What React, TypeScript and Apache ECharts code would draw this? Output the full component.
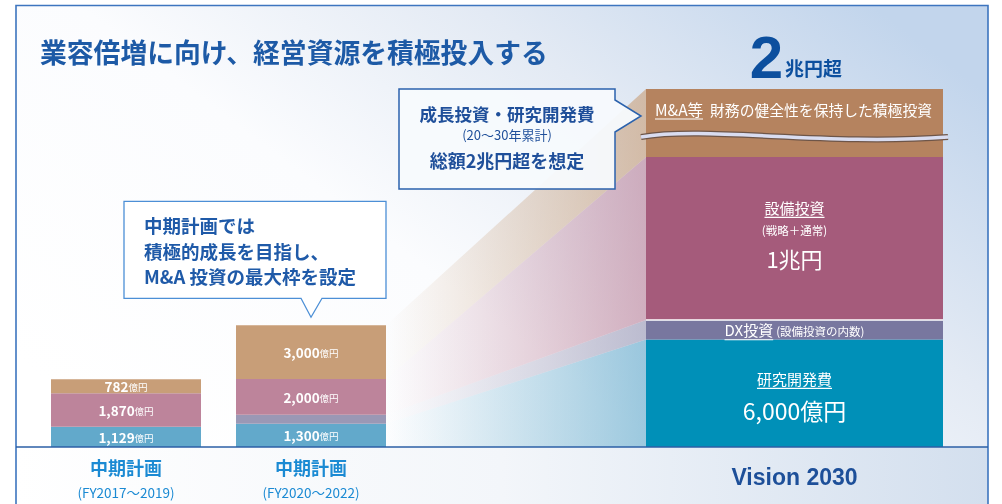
import React, { useEffect, useRef } from "react";
import * as echarts from "echarts";

// ---- data ----
const periodNames = ["中期計画", "中期計画"];
const periodSpans = ["(FY2017〜2019)", "(FY2020〜2022)"];
const visionCategory = ["Vision 2030"];

// 中期計画 (億円): R&D, DX (part of capex), capex, M&A
const rdMid = [1129, 1300];
const dxMid = [0, 500];
const capexMid = [1870, 2000];
const maMid = [782, 3000];

// Vision 2030 (億円, M&A segment drawn with a break)
const rdVision = [6000];
const dxVision = [1100];
const capexVision = [9100];
const maVision = [3800];

const yMax = 20000;

const FONT = "'Noto Sans CJK JP', 'Noto Sans', sans-serif";
const midColors = ["#62a9cb", "#9a98b5", "#bd849b", "#c89e78"];
const visColors = ["#0090b8", "#78779f", "#a55b7b", "#b5835f"];
const fanColors = [
  [98, 169, 203],
  [154, 152, 181],
  [189, 132, 155],
  [200, 158, 120],
];
const MID_BAR_W = 150;
const VIS_BAR_W = 297;

export default function App() {
  const ref = useRef<HTMLDivElement>(null);
  useEffect(() => {
    const el = ref.current!;
    const chart = echarts.init(el, null, { renderer: "svg", width: 1002, height: 504 });

    const midSeries = [rdMid, dxMid, capexMid, maMid].map((d, k) => ({
      type: "bar",
      xAxisIndex: 0,
      yAxisIndex: 0,
      stack: "mid",
      barWidth: MID_BAR_W,
      data: d,
      itemStyle: { color: midColors[k] },
      z: 3,
      label: {
        show: k !== 1,
        position: "inside",
        formatter: (p: any) =>
          p.value ? `{n|${Number(p.value).toLocaleString("en-US")}}{u|億円}` : "",
        rich: {
          n: { fontSize: 13.5, fontWeight: "bold", color: "#fff", fontFamily: FONT },
          u: { fontSize: 9.5, color: "#fff", fontFamily: FONT, padding: [2, 0, 0, 0] },
        },
      },
    }));
    const visSeries = [rdVision, dxVision, capexVision, maVision].map((d, k) => ({
      type: "bar",
      xAxisIndex: 1,
      yAxisIndex: 1,
      stack: "vis",
      barWidth: VIS_BAR_W,
      data: d,
      itemStyle: { color: visColors[k] },
      z: 3,
    }));

    const hiddenAxisParts = { axisLine: { show: false }, axisTick: { show: false } };

    chart.setOption({
      animation: false,
      textStyle: { fontFamily: FONT },
      grid: [
        { left: 33.5, width: 370, top: 89, height: 358 },
        { left: 646, width: 297, top: 89, height: 358 },
      ],
      xAxis: [
        {
          type: "category",
          gridIndex: 0,
          data: periodNames,
          ...hiddenAxisParts,
          axisLabel: {
            margin: 10,
            interval: 0,
            fontSize: 18,
            lineHeight: 20,
            fontWeight: "bold",
            color: "#1b8ad3",
            fontFamily: FONT,
          },
        },
        {
          type: "category",
          gridIndex: 1,
          data: visionCategory,
          ...hiddenAxisParts,
          axisLabel: {
            margin: 18,
            fontSize: 23,
            fontWeight: "bold",
            color: "#1d4f99",
            fontFamily: "'Liberation Sans', Arial, sans-serif",
          },
        },
        {
          type: "category",
          gridIndex: 0,
          position: "bottom",
          offset: 37,
          data: periodSpans,
          ...hiddenAxisParts,
          axisLabel: {
            margin: 0,
            interval: 0,
            fontSize: 13.5,
            lineHeight: 15,
            color: "#1b8ad3",
            fontFamily: FONT,
          },
        },
      ],
      yAxis: [
        { type: "value", gridIndex: 0, min: 0, max: yMax, show: false },
        { type: "value", gridIndex: 1, min: 0, max: yMax, show: false },
      ],
      series: [...midSeries, ...visSeries],
    });

    const toPx = (g: number, cat: number, v: number) =>
      chart.convertToPixel({ gridIndex: g } as any, [cat, v]) as number[];
    const cum = (arrs: number[][], i: number) => {
      const out = [0];
      arrs.forEach((a) => out.push(out[out.length - 1] + (a[i] || 0)));
      return out;
    };
    const midCum = cum([rdMid, dxMid, capexMid, maMid], 1);
    const visCum = cum([rdVision, dxVision, capexVision, maVision], 0);
    const midY = midCum.map((v) => toPx(0, 1, v)[1]);
    const visY = visCum.map((v) => toPx(1, 0, v)[1]);
    const x2C = toPx(0, 1, 0)[0];
    const x2R = x2C + MID_BAR_W / 2;
    const x3C = toPx(1, 0, 0)[0];
    const x3L = x3C - VIS_BAR_W / 2;
    const x3R = x3C + VIS_BAR_W / 2;
    const baseY = midY[0];

    const canvas = document.createElement("canvas");
    const ctx = canvas.getContext("2d")!;
    const measure = (t: string, size: number, weight = "normal") => {
      ctx.font = `${weight} ${size}px ${FONT}`;
      return ctx.measureText(t).width;
    };

    const els: any[] = [];
    // background
    els.push({
      type: "rect",
      z: -20,
      shape: { x: 16, y: 5, width: 972, height: baseY - 5 },
      style: {
        fill: new echarts.graphic.LinearGradient(0, 0.8, 1, 0.2, [
          { offset: 0, color: "#ffffff" },
          { offset: 0.4, color: "#fbfcfe" },
          { offset: 0.7, color: "#e3eaf4" },
          { offset: 1, color: "#c2d5ec" },
        ]),
      },
    });
    els.push({
      type: "rect",
      z: -20,
      shape: { x: 16, y: baseY, width: 972, height: 504 - baseY },
      style: {
        fill: new echarts.graphic.LinearGradient(0, 0, 1, 0, [
          { offset: 0, color: "#ffffff" },
          { offset: 0.5, color: "#f3f6fa" },
          { offset: 1, color: "#d3dfee" },
        ]),
      },
    });
    // frame
    els.push({
      type: "polyline",
      z: 30,
      shape: { points: [[16, 510], [16, 5.5], [988, 5.5], [988, 510]] },
      style: { stroke: "#3d75bf", lineWidth: 1.6, fill: null },
    });
    // baseline
    els.push({
      type: "line",
      z: 30,
      shape: { x1: 16, y1: baseY, x2: 988, y2: baseY },
      style: { stroke: "#2b5fa6", lineWidth: 1.5 },
    });

    // fans
    for (let k = 0; k < 4; k++) {
      const c = fanColors[k];
      els.push({
        type: "polygon",
        z: -5,
        shape: {
          points: [
            [x2R, midY[k]],
            [x3L, visY[k]],
            [x3L, visY[k + 1]],
            [x2R, midY[k + 1]],
          ],
        },
        style: {
          fill: new echarts.graphic.LinearGradient(0, 0, 1, 0, [
            { offset: 0, color: `rgba(${c[0]},${c[1]},${c[2]},0)` },
            { offset: 1, color: `rgba(${c[0]},${c[1]},${c[2]},0.62)` },
          ]),
        },
      });
    }

    // title
    els.push({
      type: "text",
      z: 20,
      x: 40,
      y: 51,
      style: {
        text: "業容倍増に向け、経営資源を積極投入する",
        fill: "#1d5aa6",
        font: `bold 26.8px ${FONT}`,
        align: "left",
        verticalAlign: "middle",
        textAlign: "left",
        textVerticalAlign: "middle",
      },
    });

    // callout 1 (points at bar 2)
    const tipY = midY[4] - 8;
    const b1Bottom = tipY - 19;
    const b1Top = b1Bottom - 97;
    els.push({
      type: "polygon",
      z: 10,
      shape: {
        points: [
          [124, b1Top],
          [x2R, b1Top],
          [x2R, b1Bottom],
          [x2C + 11, b1Bottom],
          [x2C, tipY],
          [x2C - 10, b1Bottom],
          [124, b1Bottom],
        ],
      },
      style: { fill: "rgba(255,255,255,0.95)", stroke: "#4c8fd6", lineWidth: 1.3 },
    });
    els.push({
      type: "text",
      z: 12,
      x: 144,
      y: (b1Top + b1Bottom) / 2 + 1,
      style: {
        text: "中期計画では\n積極的成長を目指し、\nM&A 投資の最大枠を設定",
        fill: "#1f5aa8",
        font: `bold 18.5px ${FONT}`,
        lineHeight: 25.5,
        align: "left",
        verticalAlign: "middle",
        textAlign: "left",
        textVerticalAlign: "middle",
      },
    });

    // callout 2 (points at Vision bar M&A)
    const t2x = x3L - 5;
    const t2y = 116;
    const b2R = t2x - 26;
    const b2L = 399;
    const b2T = 89;
    const b2B = 189;
    els.push({
      type: "polygon",
      z: 10,
      shape: {
        points: [
          [b2L, b2T],
          [b2R, b2T],
          [b2R, 100],
          [t2x, t2y],
          [b2R, 132],
          [b2R, b2B],
          [b2L, b2B],
        ],
      },
      style: { fill: "rgba(247,250,253,0.95)", stroke: "#2b62ad", lineWidth: 1.5 },
    });
    const c2x = (b2L + b2R) / 2;
    const c2lines: [string, number, number, string][] = [
      ["成長投資・研究開発費", 113, 17.5, "bold"],
      ["(20〜30年累計)", 134, 13, "normal"],
      ["総額2兆円超を想定", 160, 18, "bold"],
    ];
    c2lines.forEach(([t, y, s, w]) =>
      els.push({
        type: "text",
        z: 12,
        x: c2x,
        y,
        style: {
          text: t,
          fill: "#1f4f9a",
          font: `${w} ${s}px ${FONT}`,
          align: "center",
          verticalAlign: "middle",
          textAlign: "center",
          textVerticalAlign: "middle",
        },
      })
    );

    // 2兆円超
    els.push({
      type: "text",
      z: 12,
      x: 783,
      y: 57,
      style: {
        text: "2",
        fill: "#0c4f9e",
        font: `bold 60px 'Liberation Sans', Arial, sans-serif`,
        align: "right",
        verticalAlign: "middle",
        textAlign: "right",
        textVerticalAlign: "middle",
      },
    });
    els.push({
      type: "text",
      z: 12,
      x: 785,
      y: 67,
      style: {
        text: "兆円超",
        fill: "#0c4f9e",
        font: `bold 19px ${FONT}`,
        align: "left",
        verticalAlign: "middle",
        textAlign: "left",
        textVerticalAlign: "middle",
      },
    });

    // texts on Vision bar
    const txt = (t: string, x: number, y: number, size: number, align = "center", weight = "normal") => ({
      type: "text",
      z: 20,
      x,
      y,
      style: {
        text: t,
        fill: "#fff",
        font: `${weight} ${size}px ${FONT}`,
        align,
        verticalAlign: "middle",
        textAlign: align,
        textVerticalAlign: "middle",
      },
    });
    const uline = (x1: number, x2: number, y: number) => ({
      type: "line",
      z: 20,
      shape: { x1, y1: y, x2, y2: y },
      style: { stroke: "#fff", lineWidth: 1.2 },
    });

    // M&A
    const maY = visY[4] + 20;
    const wMA = measure("M&A等", 15.5);
    els.push(txt("M&A等", x3L + 9, maY, 15.5, "left"));
    els.push(uline(x3L + 9, x3L + 9 + wMA, maY + 10));
    els.push(txt("財務の健全性を保持した積極投資", x3L + 9 + wMA + 7, maY, 14.8, "left"));
    // break wave
    const wy = visY[4] + 45;
    const wave = {
      x1: x3L - 5,
      y1: wy + 3,
      cpx1: x3L + 60,
      cpy1: wy - 8,
      cpx2: x3L + 180,
      cpy2: wy + 12,
      x2: x3R + 5,
      y2: wy + 3,
    };
    els.push({ type: "bezierCurve", z: 18, shape: wave, style: { stroke: "#6e5548", lineWidth: 6, fill: null } });
    els.push({ type: "bezierCurve", z: 19, shape: wave, style: { stroke: "#d9dcf0", lineWidth: 3.5, fill: null } });

    // capex
    const cpY = (visY[2] + visY[3]) / 2;
    const wCp = measure("設備投資", 15);
    els.push(txt("設備投資", x3C, cpY - 31, 15));
    els.push(uline(x3C - wCp / 2, x3C + wCp / 2, cpY - 21));
    els.push(txt("(戦略＋通常)", x3C, cpY - 8, 11.5));
    els.push(txt("1兆円", x3C, cpY + 20, 22));
    // separator
    els.push({
      type: "line",
      z: 15,
      shape: { x1: x3L, y1: visY[2], x2: x3R, y2: visY[2] },
      style: { stroke: "#ffffff", lineWidth: 1.5 },
    });
    // DX
    const dxY = (visY[1] + visY[2]) / 2;
    const wDx1 = measure("DX投資", 15);
    const wDx2 = measure("(設備投資の内数)", 11.5);
    const dxL = x3C - (wDx1 + wDx2 + 3) / 2;
    els.push(txt("DX投資", dxL, dxY, 15, "left"));
    els.push(uline(dxL, dxL + wDx1, dxY + 10));
    els.push(txt("(設備投資の内数)", dxL + wDx1 + 3, dxY + 1.5, 11.5, "left"));
    // R&D
    const rdY = (visY[0] + visY[1]) / 2;
    const wRd = measure("研究開発費", 15);
    els.push(txt("研究開発費", x3C, rdY - 15, 15));
    els.push(uline(x3C - wRd / 2, x3C + wRd / 2, rdY - 5));
    els.push(txt("6,000億円", x3C, rdY + 17, 23));

    chart.setOption({ graphic: { elements: els } });

    return () => chart.dispose();
  }, []);
  return <div ref={ref} style={{ position: "fixed", left: 0, top: 0, width: 1002, height: 504 }} />;
}
